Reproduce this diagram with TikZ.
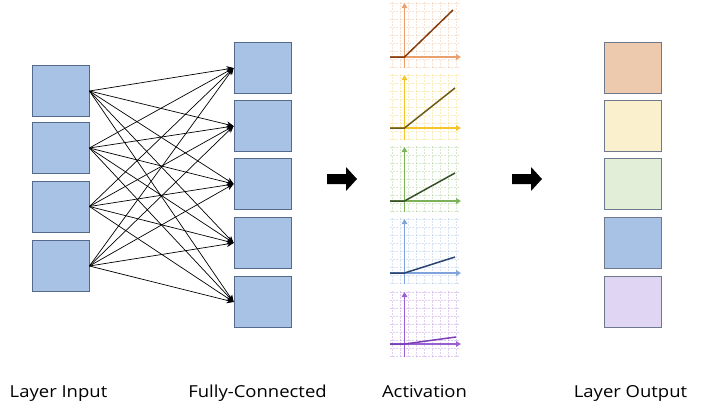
\documentclass[tikz,border=0pt]{standalone}
\usepackage{fontspec}
\setmainfont{Open Sans}[FakeStretch=1.12]
\usetikzlibrary{arrows.meta}
\definecolor{boxblue}{HTML}{A7C2E4}
\definecolor{boxedge}{HTML}{55698A}
\definecolor{outedge}{HTML}{6E7A8C}
\definecolor{outorange}{HTML}{EDCAAE}
\definecolor{outyellow}{HTML}{FBF0CE}
\definecolor{outgreen}{HTML}{E3EED9}
\definecolor{outpurple}{HTML}{E1D5F4}
\definecolor{axorange}{HTML}{E9A06C}
\definecolor{fnorange}{HTML}{843C0C}
\definecolor{axyellow}{HTML}{F5C42C}
\definecolor{fnyellow}{HTML}{6B5A1A}
\definecolor{axgreen}{HTML}{7CB35A}
\definecolor{fngreen}{HTML}{38502A}
\definecolor{axblue}{HTML}{7FA3DA}
\definecolor{fnblue}{HTML}{2A4470}
\definecolor{axpurple}{HTML}{9A5FD0}
\definecolor{fnpurple}{HTML}{7A3FB8}
\tikzset{
  unitbox/.style={draw=boxedge, line width=0.8pt, fill=boxblue, minimum width=57pt, minimum height=51pt, inner sep=0pt},
  outbox/.style={draw=outedge, line width=1pt, minimum width=57pt, minimum height=51pt, inner sep=0pt},
  conn/.style={line width=0.7pt, -{Stealth[length=7pt,width=6pt]}},
  label/.style={font=\fontsize{16.5}{19}\selectfont, anchor=base},
  axis/.style={line width=1.5pt, -{Triangle[length=5pt,width=5.5pt]}},
  fn/.style={line width=1.5pt},
  gridln/.style={line width=0.5pt, dash pattern=on 2pt off 1.2pt, opacity=0.3},
  blockarrow/.style={fill=black, draw=none}
}
\newcommand{\actchart}[6]{%
  % #1 axis colour, #2 function colour, #3 top y, #4 origin y, #5 end x, #6 end y
  \foreach \gx in {392,400,...,460} {\draw[gridln, draw=#1] (\gx,#3) -- (\gx,#3+66);}
  \foreach \gy in {0,8,...,64} {\draw[gridln, draw=#1] (390,#3+\gy+1) -- (460,#3+\gy+1);}
  \draw[axis, draw=#1, fill=#1] (404.5,#3+66) -- (404.5,#3+1);
  \draw[axis, draw=#1, fill=#1] (390,#4) -- (461,#4);
  \draw[fn, draw=#2] (390,#4) -- (404.5,#4) -- (#5,#6);
}
\begin{document}
\begin{tikzpicture}[x=1pt,y=-1pt]
\useasboundingbox (0,0) rectangle (701,408);
\fill[white] (0,0) rectangle (701,408);

% input layer
\node[unitbox] (i1) at (60.5,91) {};
\node[unitbox] (i2) at (60.5,148) {};
\node[unitbox] (i3) at (60.5,206.5) {};
\node[unitbox] (i4) at (60.5,266) {};

% hidden layer
\node[unitbox] (h1) at (262.5,68) {};
\node[unitbox] (h2) at (262.5,126) {};
\node[unitbox] (h3) at (262.5,184) {};
\node[unitbox] (h4) at (262.5,243) {};
\node[unitbox] (h5) at (262.5,302) {};

\foreach \a in {1,...,4} {
  \foreach \b in {1,...,5} {
    \draw[conn] (i\a.east) -- (h\b.west);
  }
}

% block arrows
\fill[blockarrow] (327,174) -- (346,174) -- (346,167) -- (357,179) -- (346,191) -- (346,184) -- (327,184) -- cycle;
\fill[blockarrow] (512,174) -- (531,174) -- (531,167) -- (542,179) -- (531,191) -- (531,184) -- (512,184) -- cycle;

% activation charts
\actchart{axorange}{fnorange}{2}{57}{453}{10}
\actchart{axyellow}{fnyellow}{74}{128}{455}{88}
\actchart{axgreen}{fngreen}{146}{201}{455}{173}
\actchart{axblue}{fnblue}{218}{273}{455}{257}
\actchart{axpurple}{fnpurple}{291}{344}{456}{337}

% output layer
\node[outbox, fill=outorange] (o1) at (632.5,68) {};
\node[outbox, fill=outyellow] (o2) at (632.5,126) {};
\node[outbox, fill=outgreen] (o3) at (632.5,184) {};
\node[outbox, fill=boxblue] (o4) at (632.5,243) {};
\node[outbox, fill=outpurple] (o5) at (632.5,302) {};

% labels
\node[label] (l1) at (58.5,397) {Layer Input};
\node[label] (l2) at (257.5,397) {Fully-Connected};
\node[label] (l3) at (424.5,397) {Activation};
\node[label] (l4) at (630.5,397) {Layer Output};
\end{tikzpicture}
\end{document}
